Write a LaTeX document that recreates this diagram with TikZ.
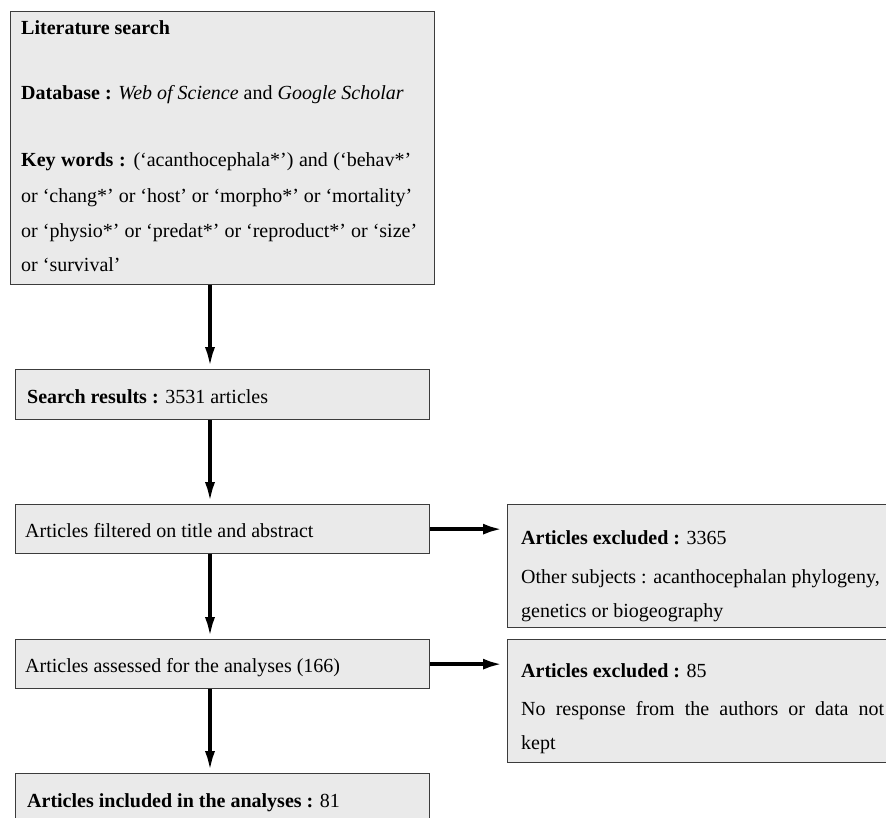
\documentclass[tikz,border=0pt]{standalone}
\usepackage{fontspec}
\setmainfont{Liberation Serif}
\usetikzlibrary{arrows.meta}
\definecolor{boxfill}{HTML}{EAEAEA}
\definecolor{boxline}{HTML}{3C3C3C}
\begin{document}
\begin{tikzpicture}[x=1pt,y=-1pt,
  box/.style={draw=boxline,fill=boxfill,line width=1.3pt,rectangle,anchor=north west,inner sep=0pt},
  txt/.style={anchor=base west,inner sep=0pt,font=\fontsize{20}{24}\selectfont},
  flow/.style={line width=4pt,-{Latex[length=22pt,width=10pt]}},
  flowh/.style={line width=4.5pt,-{Latex[length=20pt,width=11pt]},shorten >=4pt}]
\useasboundingbox (0,0) rectangle (886,818);
\clip (0,0) rectangle (886,818);
% boxes
\node[box,minimum width=424pt,minimum height=273pt] (b1) at (10,11) {};
\node[box,minimum width=414pt,minimum height=50pt] (b2) at (15,369) {};
\node[box,minimum width=414pt,minimum height=49pt] (b3) at (15,504) {};
\node[box,minimum width=414pt,minimum height=49pt] (b4) at (15,639) {};
\node[box,minimum width=414pt,minimum height=60pt] (b5) at (15,773) {};
\node[box,minimum width=390pt,minimum height=123pt] (r1) at (507,504) {};
\node[box,minimum width=390pt,minimum height=123pt] (r2) at (507,639) {};
% connectors
\coordinate (ax) at (210,0);
\draw[flow] (b1.south -| ax) -- (b2.north -| ax);
\draw[flow] (b2.south -| ax) -- (b3.north -| ax);
\draw[flow] (b3.south -| ax) -- (b4.north -| ax);
\draw[flow] (b4.south -| ax) -- (b5.north -| ax);
\draw[flowh] (b3.east) -- (r1.west |- b3.east);
\draw[flowh] (b4.east) -- (r2.west |- b4.east);
% texts
\node[txt] (t1a) at (21,35) {\textbf{Literature search}};
\node[txt] (t1b) at (21,100) {\textbf{Database :} \textit{Web of Science} and \textit{Google Scholar}};
\node[txt] (t1c) at (21,167) {\hbox to 390pt{\textbf{Key words :} (‘acanthocephala*’) and (‘behav*’}};
\node[txt] (t1d) at (21,203) {\hbox to 391pt{or ‘chang*’ or ‘host’ or ‘morpho*’ or ‘mortality’}};
\node[txt] (t1e) at (21,238) {\hbox to 396pt{or ‘physio*’ or ‘predat*’ or ‘reproduct*’ or ‘size’}};
\node[txt] (t1f) at (21,272) {or ‘survival’};
\node[txt] (t2) at (27,403) {\textbf{Search results :} 3531 articles};
\node[txt] (t3) at (25,537) {Articles filtered on title and abstract};
\node[txt] (t4) at (25,672) {Articles assessed for the analyses (166)};
\node[txt] (t5) at (27,807) {\textbf{Articles included in the analyses :} 81};
\node[txt] (r1a) at (521,544) {\textbf{Articles excluded :} 3365};
\node[txt] (r1b) at (521,583) {Other subjects : acanthocephalan phylogeny,};
\node[txt] (r1c) at (521,617) {genetics or biogeography};
\node[txt] (r2a) at (521,677) {\textbf{Articles excluded :} 85};
\node[txt] (r2b) at (521,715) {\hbox to 363pt{No response from the authors or data not}};
\node[txt] (r2c) at (521,749) {kept};
\end{tikzpicture}
\end{document}
